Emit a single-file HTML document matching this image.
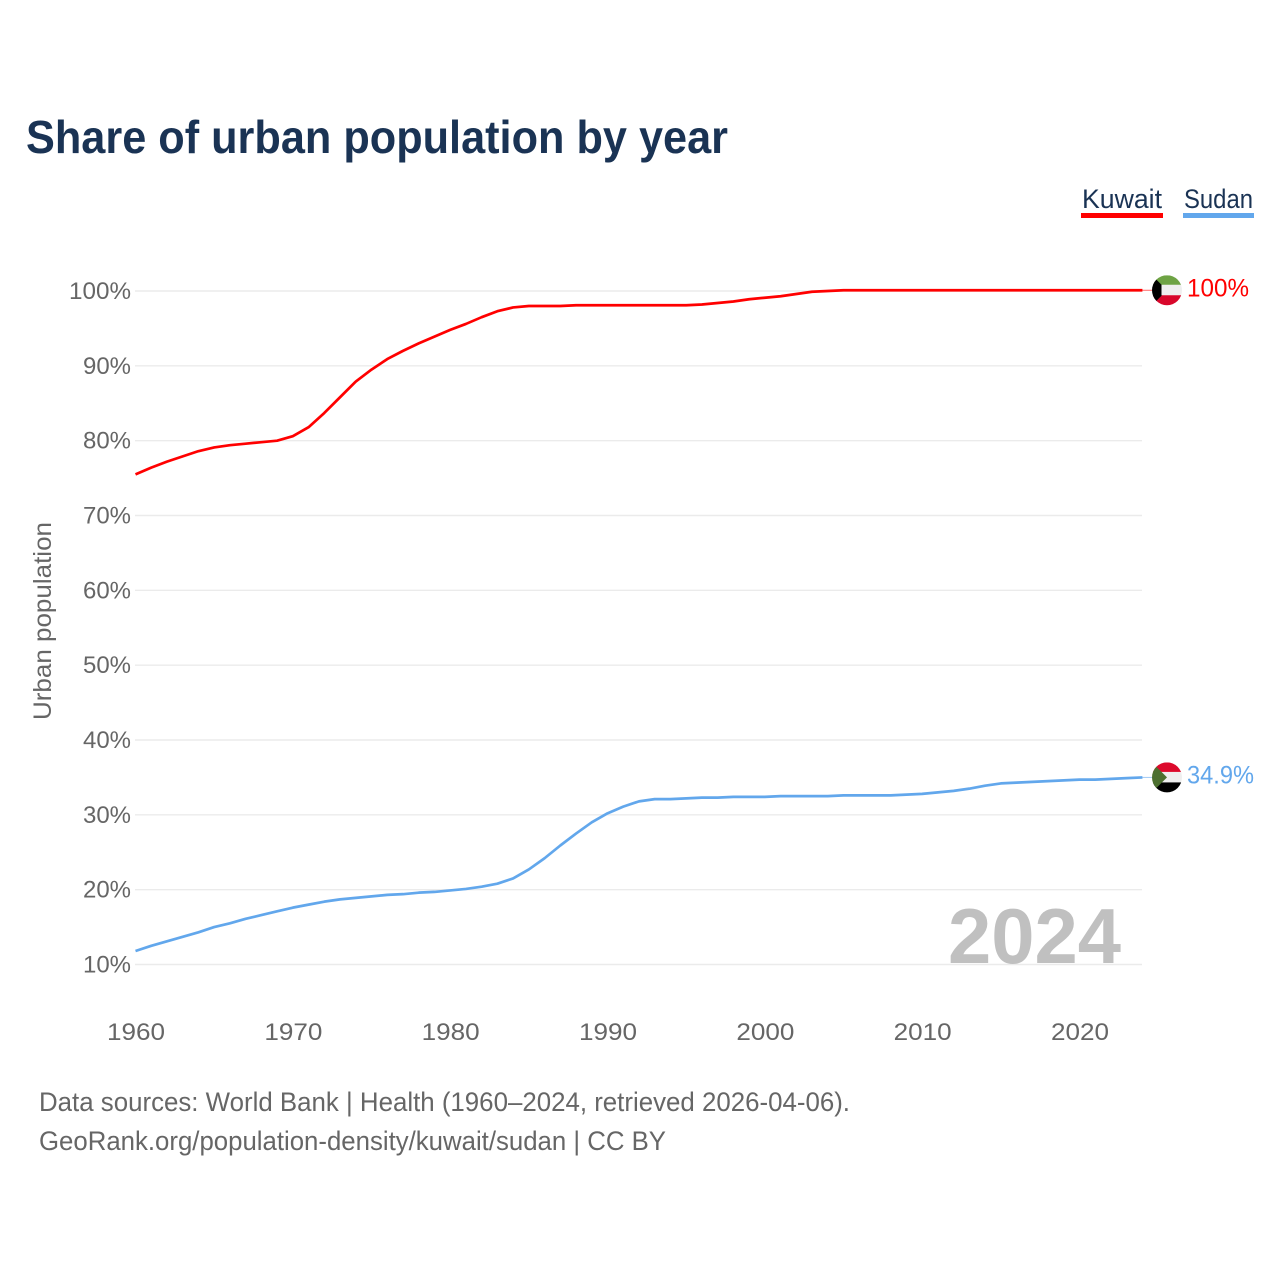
<!DOCTYPE html>
<html>
<head>
<meta charset="utf-8">
<title>Share of urban population by year</title>
<style>
html,body{margin:0;padding:0;background:#fff;width:1280px;height:1280px;overflow:hidden}
svg{display:block}
text{font-family:"Liberation Sans",sans-serif}
</style>
</head>
<body>
<svg id="chart" width="1280" height="1280" viewBox="0 0 1280 1280" xmlns="http://www.w3.org/2000/svg">
<defs>
<clipPath id="flag-clip-a"><circle cx="0" cy="0" r="15"/></clipPath>
</defs>
<text x="26" y="153" font-size="46" font-weight="700" fill="#1a3354" textLength="702" lengthAdjust="spacingAndGlyphs">Share of urban population by year</text>
<g id="gridlines"></g>
<g id="y-ticks"></g>
<g id="x-ticks"></g>
<text transform="translate(51,720) rotate(-90)" font-size="25" fill="#666" textLength="198" lengthAdjust="spacingAndGlyphs">Urban population</text>
<text x="948" y="963" font-size="78" font-weight="700" fill="#c0c0c0" textLength="173" lengthAdjust="spacingAndGlyphs">2024</text>
<g id="series"></g>
<g>
<g>
<text x="1082" y="208" font-size="27" fill="#1a3354" textLength="80" lengthAdjust="spacingAndGlyphs">Kuwait</text>
<rect x="1081" y="213" width="82" height="5" fill="#ff0000"/>
</g>
<g>
<text x="1184" y="208" font-size="27" fill="#1a3354" textLength="69" lengthAdjust="spacingAndGlyphs">Sudan</text>
<rect x="1183" y="213" width="71" height="5" fill="#62a7ec"/>
</g>
</g>
<g id="end-markers"></g>
<text x="39" y="1111" font-size="27" fill="#666" textLength="811" lengthAdjust="spacingAndGlyphs">Data sources: World Bank | Health (1960–2024, retrieved 2026-04-06).</text>
<text x="39" y="1150" font-size="27" fill="#666" textLength="627" lengthAdjust="spacingAndGlyphs">GeoRank.org/population-density/kuwait/sudan | CC BY</text>
</svg>
<script>
const years = [1960,1961,1962,1963,1964,1965,1966,1967,1968,1969,1970,1971,1972,1973,1974,1975,1976,1977,1978,1979,1980,1981,1982,1983,1984,1985,1986,1987,1988,1989,1990,1991,1992,1993,1994,1995,1996,1997,1998,1999,2000,2001,2002,2003,2004,2005,2006,2007,2008,2009,2010,2011,2012,2013,2014,2015,2016,2017,2018,2019,2020,2021,2022,2023,2024];
const kuwaitValues = [75.5,76.4,77.2,77.9,78.6,79.1,79.4,79.6,79.8,80.0,80.6,81.8,83.7,85.8,87.9,89.5,90.9,92.0,93.0,93.9,94.8,95.6,96.5,97.3,97.8,98.0,98.0,98.0,98.1,98.1,98.1,98.1,98.1,98.1,98.1,98.1,98.2,98.4,98.6,98.9,99.1,99.3,99.6,99.9,100,100.1,100.1,100.1,100.1,100.1,100.1,100.1,100.1,100.1,100.1,100.1,100.1,100.1,100.1,100.1,100.1,100.1,100.1,100.1,100.1];
const sudanValues = [11.8,12.5,13.1,13.7,14.3,15.0,15.5,16.1,16.6,17.1,17.6,18.0,18.4,18.7,18.9,19.1,19.3,19.4,19.6,19.7,19.9,20.1,20.4,20.8,21.5,22.7,24.2,25.9,27.5,29.0,30.2,31.1,31.8,32.1,32.1,32.2,32.3,32.3,32.4,32.4,32.4,32.5,32.5,32.5,32.5,32.6,32.6,32.6,32.6,32.7,32.8,33.0,33.2,33.5,33.9,34.2,34.3,34.4,34.5,34.6,34.7,34.7,34.8,34.9,35.0];
const yTickValues = [10,20,30,40,50,60,70,80,90,100];
const xTickValues = [1960,1970,1980,1990,2000,2010,2020];
const endLabels = ["100%","34.9%"];

const NS = 'http://www.w3.org/2000/svg';
const xScale = function (year) { return 135.5 + (year - 1960) * (1079.5 - 135.5) / 60; };
const yScale = function (value) { return 964.5 - (value - 10) * (964.5 - 291) / 90; };
const pathFor = function (vals) {
  return vals.map(function (v, i) { return (i ? 'L' : 'M') + xScale(years[i]).toFixed(2) + ' ' + yScale(v).toFixed(2); }).join(' ');
};
const make = function (tag, parent) {
  const el = document.createElementNS(NS, tag);
  parent.appendChild(el);
  return el;
};

const gridGroup = document.getElementById('gridlines');
const yGroup = document.getElementById('y-ticks');
yTickValues.forEach(function (v) {
  const line = make('line', gridGroup);
  
  
  line.setAttribute('x1', 135);
  line.setAttribute('x2', 1142);
  line.setAttribute('y1', yScale(v));
  line.setAttribute('y2', yScale(v));
  line.setAttribute('stroke', '#ebebeb');
  line.setAttribute('stroke-width', 1.4);
  const label = make('text', yGroup);
  
  
  label.setAttribute('x', 131);
  label.setAttribute('y', yScale(v) + 8);
  label.setAttribute('text-anchor', 'end');
  label.setAttribute('font-size', 24);
  label.setAttribute('fill', '#666');
  label.setAttribute('textLength', v === 100 ? 62 : 48);
  label.setAttribute('lengthAdjust', 'spacingAndGlyphs');
  label.textContent = v + '%';
});

const xGroup = document.getElementById('x-ticks');
xTickValues.forEach(function (year) {
  const label = make('text', xGroup);
  
  
  label.setAttribute('x', xScale(year) + 0.5);
  label.setAttribute('y', 1040);
  label.setAttribute('text-anchor', 'middle');
  label.setAttribute('font-size', 24);
  label.setAttribute('fill', '#666');
  label.setAttribute('textLength', 58);
  label.setAttribute('lengthAdjust', 'spacingAndGlyphs');
  label.textContent = year;
});

const seriesGroup = document.getElementById('series');
const kuwaitLine = make('path', seriesGroup);


kuwaitLine.setAttribute('d', pathFor(kuwaitValues));
kuwaitLine.setAttribute('fill', 'none');
kuwaitLine.setAttribute('stroke', '#ff0000');
kuwaitLine.setAttribute('stroke-width', 2.7);
kuwaitLine.setAttribute('stroke-linejoin', 'round');
const sudanLine = make('path', seriesGroup);


sudanLine.setAttribute('d', pathFor(sudanValues));
sudanLine.setAttribute('fill', 'none');
sudanLine.setAttribute('stroke', '#62a7ec');
sudanLine.setAttribute('stroke-width', 2.7);
sudanLine.setAttribute('stroke-linejoin', 'round');

const markers = document.getElementById('end-markers');
const lastX = xScale(years[years.length - 1]);
const rect = function (parent, x, y, w, h, fill) {
  const r = make('rect', parent);
  r.setAttribute('x', x);
  r.setAttribute('y', y);
  r.setAttribute('width', w);
  r.setAttribute('height', h);
  r.setAttribute('fill', fill);
  return r;
};
const poly = function (parent, pts, fill) {
  const p = make('polygon', parent);
  p.setAttribute('points', pts);
  p.setAttribute('fill', fill);
  return p;
};
const connector = function (y, color, nameText) {
  const c = make('line', markers);
  
  
  c.setAttribute('x1', lastX);
  c.setAttribute('x2', 1152);
  c.setAttribute('y1', y);
  c.setAttribute('y2', y);
  c.setAttribute('stroke', color);
  c.setAttribute('stroke-width', 1);
  c.setAttribute('stroke-opacity', 0.6);
};

const kuwaitY = yScale(kuwaitValues[kuwaitValues.length - 1]);
const sudanY = yScale(sudanValues[sudanValues.length - 1]);
connector(kuwaitY, '#ff0000', 'kuwait-connector');
connector(sudanY, '#62a7ec', 'sudan-connector');

const kuwaitFlag = make('g', markers);


kuwaitFlag.setAttribute('transform', 'translate(1167,' + kuwaitY + ')');
kuwaitFlag.setAttribute('clip-path', 'url(#flag-clip-a)');
rect(kuwaitFlag, -15, -15, 30, 10, '#6ea344');
rect(kuwaitFlag, -15, -5.5, 30, 11, '#efefef');
rect(kuwaitFlag, -15, 5, 30, 10.5, '#d8072b');
poly(kuwaitFlag, '-15,-15 -5.5,-5.5 -5.5,5.5 -15,15', '#000');

const sudanFlag = make('g', markers);


sudanFlag.setAttribute('transform', 'translate(1167,' + sudanY + ')');
sudanFlag.setAttribute('clip-path', 'url(#flag-clip-a)');
rect(sudanFlag, -15, -15, 30, 10, '#dc0a2c');
rect(sudanFlag, -15, -5.5, 30, 11, '#efefef');
rect(sudanFlag, -15, 5, 30, 10.5, '#000');
poly(sudanFlag, '-15,-15 0,0 -15,15', '#4d7030');

const kuwaitLabel = make('text', markers);


kuwaitLabel.setAttribute('x', 1187);
kuwaitLabel.setAttribute('y', kuwaitY + 6);
kuwaitLabel.setAttribute('font-size', 25);
kuwaitLabel.setAttribute('fill', '#ff0000');
kuwaitLabel.setAttribute('textLength', 62);
kuwaitLabel.setAttribute('lengthAdjust', 'spacingAndGlyphs');
kuwaitLabel.textContent = endLabels[0];
const sudanLabel = make('text', markers);


sudanLabel.setAttribute('x', 1187);
sudanLabel.setAttribute('y', sudanY + 6);
sudanLabel.setAttribute('font-size', 25);
sudanLabel.setAttribute('fill', '#62a7ec');
sudanLabel.setAttribute('textLength', 67);
sudanLabel.setAttribute('lengthAdjust', 'spacingAndGlyphs');
sudanLabel.textContent = endLabels[1];
</script>
</body>
</html>
